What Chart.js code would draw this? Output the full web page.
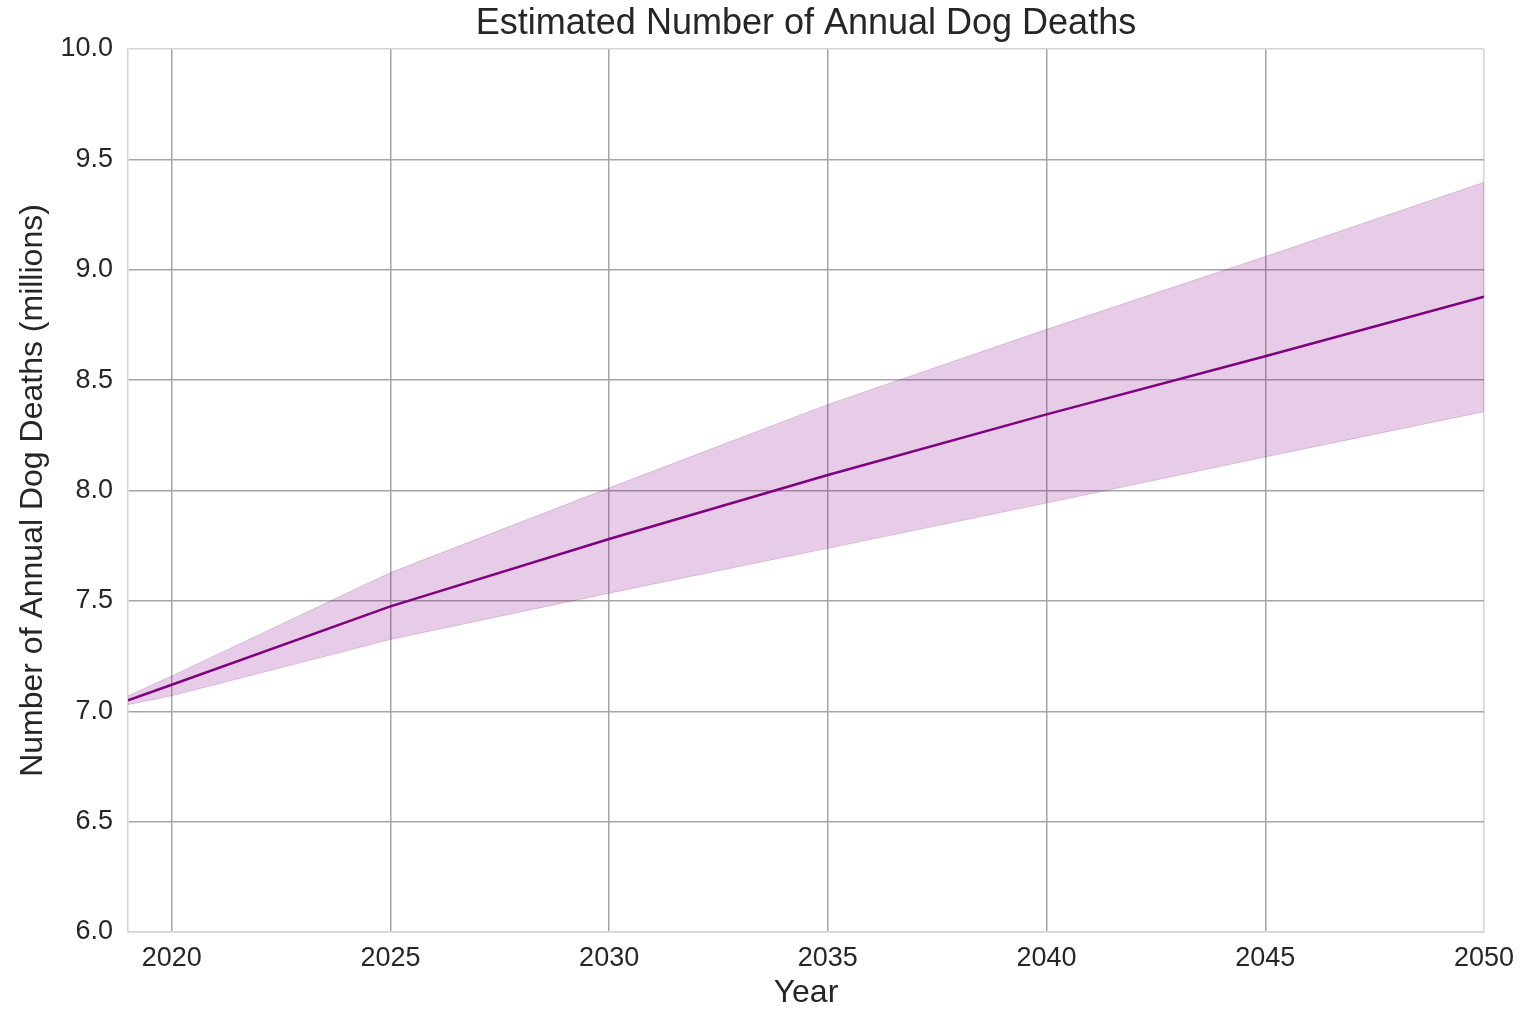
<!DOCTYPE html>
<html>
<head>
<meta charset="utf-8">
<title>Estimated Number of Annual Dog Deaths</title>
<script src="https://cdn.jsdelivr.net/npm/chart.js@4/dist/chart.umd.min.js"></script>
<style>
  html, body { margin: 0; padding: 0; background: #ffffff; }
  #wrap { width: 1524px; height: 1009px; }
</style>
</head>
<body>
<div id="wrap"><canvas id="chart" width="1524" height="1009"></canvas></div>
<script>
// Projection of annual dog deaths (millions) with its uncertainty band
const years = [2019, 2020, 2025, 2030, 2035, 2040, 2045, 2050];
const meanDeaths = [7.05, 7.12, 7.475, 7.78, 8.07, 8.345, 8.608, 8.878];
const upperBound = [7.07, 7.16, 7.628, 8.012, 8.39, 8.73, 9.06, 9.396];
const lowerBound = [7.03, 7.07, 7.325, 7.535, 7.738, 7.943, 8.152, 8.357];
const xTickValues = [2020, 2025, 2030, 2035, 2040, 2045, 2050];
const yTickValues = [6.0, 6.5, 7.0, 7.5, 8.0, 8.5, 9.0, 9.5, 10.0];
const chartTitle = 'Estimated Number of Annual Dog Deaths';

const pts = arr => years.map((y, i) => ({ x: y, y: arr[i] }));

const TEXT = '#262626';
const GRID = '#a6a6a6';
const FRAME = '#d4d4d4';
const FONT = "'Liberation Sans', Arial, sans-serif";

// Title centred over the plotting area rather than the whole canvas
const areaTitle = {
  id: 'areaTitle',
  afterDraw(chart) {
    const { ctx, chartArea } = chart;
    ctx.save();
    ctx.fillStyle = TEXT;
    ctx.font = `normal 36px ${FONT}`;
    ctx.textAlign = 'center';
    ctx.textBaseline = 'middle';
    ctx.fillText(chartTitle, (chartArea.left + chartArea.right) / 2, 24);
    ctx.restore();
  }
};

new Chart(document.getElementById('chart'), {
  type: 'line',
  data: {
    datasets: [
      {
        label: 'Mean',
        data: pts(meanDeaths),
        borderColor: '#800080',
        borderWidth: 2.5,
        pointRadius: 0,
        fill: false,
        tension: 0,
        order: 0
      },
      {
        label: 'Upper',
        data: pts(upperBound),
        borderColor: 'rgba(128,0,128,0.18)',
        borderWidth: 1,
        backgroundColor: 'rgba(128,0,128,0.2)',
        pointRadius: 0,
        fill: '+1',
        tension: 0,
        order: 1
      },
      {
        label: 'Lower',
        data: pts(lowerBound),
        borderColor: 'rgba(128,0,128,0.18)',
        borderWidth: 1,
        pointRadius: 0,
        fill: false,
        tension: 0,
        order: 2
      }
    ]
  },
  plugins: [areaTitle],
  options: {
    responsive: false,
    animation: false,
    layout: { padding: { left: 0, right: 38, top: 49, bottom: 0 } },
    plugins: {
      legend: { display: false },
      tooltip: { enabled: false },
      title: { display: false }
    },
    scales: {
      x: {
        type: 'linear',
        min: 2019,
        max: 2050,
        afterBuildTicks: s => { s.ticks = xTickValues.map(v => ({ value: v })); },
        afterFit: s => { s.height = 77; },
        ticks: {
          color: TEXT,
          padding: 10,
          font: { family: FONT, size: 27 },
          maxRotation: 0,
          callback: v => String(v)
        },
        grid: {
          drawTicks: false,
          lineWidth: 1.5,
          color: c => (c.tick && c.tick.value === 2050 ? FRAME : GRID)
        },
        border: { display: true, color: FRAME, width: 1.5 },
        title: {
          display: true,
          text: 'Year',
          color: TEXT,
          font: { family: FONT, size: 32, lineHeight: 1 },
          padding: { top: 0, bottom: 0 }
        }
      },
      y: {
        min: 6,
        max: 10,
        afterBuildTicks: s => { s.ticks = yTickValues.map(v => ({ value: v })); },
        afterFit: s => { s.width = 128; },
        ticks: {
          color: TEXT,
          padding: 15,
          font: { family: FONT, size: 27 },
          callback: v => Number(v).toFixed(1)
        },
        grid: {
          drawTicks: false,
          lineWidth: 1.5,
          color: c => (c.tick && (c.tick.value === 10 || c.tick.value === 6) ? FRAME : GRID)
        },
        border: { display: true, color: FRAME, width: 1.5 },
        title: {
          display: true,
          text: 'Number of Annual Dog Deaths (millions)',
          color: TEXT,
          font: { family: FONT, size: 32, lineHeight: 1 },
          padding: { top: 17, bottom: 0 }
        }
      }
    }
  }
});
</script>
</body>
</html>
